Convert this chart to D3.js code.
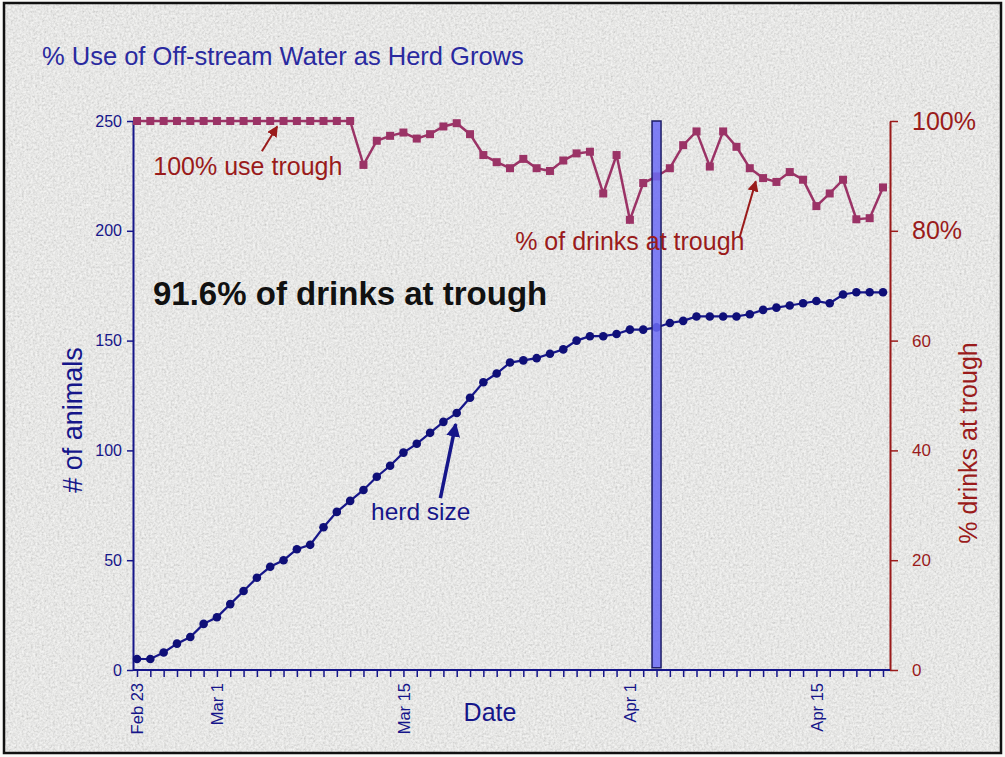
<!DOCTYPE html>
<html>
<head>
<meta charset="utf-8">
<script src="https://cdn.jsdelivr.net/npm/d3@7"></script>
<style>
  body { margin: 0; background: #fff; }
  text { font-family: "Liberation Sans", Arial, sans-serif; }
</style>
</head>
<body>
<div id="chart"></div>
<script>
// one reading per day, Feb 23 to Apr 20
var firstDay = new Date(Date.UTC(2007, 1, 23));
var lastDay = new Date(Date.UTC(2007, 3, 20));
var days = d3.utcDay.range(firstDay, d3.utcDay.offset(lastDay, 1));

// # of animals in the herd
var herdSize = [5, 5, 8, 12, 15, 21, 24, 30, 36, 42,
    47, 50, 55, 57, 65, 72, 77, 82, 88, 93,
    99, 103, 108, 113, 117, 124, 131, 135, 140, 141,
    142, 144, 146, 150, 152, 152, 153, 155, 155, 156,
    158, 159, 161, 161, 161, 161, 162, 164, 165, 166,
    167, 168, 167, 171, 172, 172, 172];

// % of drinks taken at the trough
var pctTrough = [100, 100, 100, 100, 100, 100, 100, 100, 100, 100,
    100, 100, 100, 100, 100, 100, 100, 92.0, 96.4, 97.3,
    97.9, 96.8, 97.6, 99.0, 99.6, 97.6, 93.8, 92.5, 91.4, 93.1,
    91.4, 90.9, 92.8, 94.1, 94.4, 86.8, 93.8, 82.0, 88.7, 89.9,
    91.4, 95.6, 98.1, 91.7, 98.1, 95.3, 91.4, 89.6, 88.9, 90.7,
    89.3, 84.5, 86.8, 89.3, 82.1, 82.3, 87.9];

var leftTicks = [0, 50, 100, 150, 200, 250];
var rightTicks = [0, 20, 40, 60, 80, 100];
var dateLabels = ["Feb 23", "Mar 1", "Mar 15", "Apr 1", "Apr 15"];
var markDay = new Date(Date.UTC(2007, 3, 3));   // the vertical bar

var navy = "#16168a",
    darkRed = "#9a1b1b",
    plum = "#9b3366";

var width = 1005, height = 757;

var svg = d3.select("#chart")
    .append("svg")
    .attr("width", width)
    .attr("height", height);

// speckled grey paper background
var defs = svg.append("defs");
var noise = defs.append("filter").attr("id", "noise")
    .attr("x", 0).attr("y", 0).attr("width", 1).attr("height", 1);
noise.append("feTurbulence")
    .attr("type", "fractalNoise")
    .attr("baseFrequency", 0.45)
    .attr("numOctaves", 3)
    .attr("seed", 4);
noise.append("feColorMatrix")
    .attr("type", "matrix")
    .attr("values", "1 0 0 0 0  1 0 0 0 0  1 0 0 0 0  0 0 0 0 1");

svg.append("rect")
    .attr("width", width).attr("height", height)
    .attr("fill", "#fafaf8");
svg.append("rect")
    .attr("x", 4).attr("y", 3)
    .attr("width", 997).attr("height", 750)
    .attr("filter", "url(#noise)")
    .attr("opacity", 0.3);
svg.append("rect")
    .attr("x", 4).attr("y", 3)
    .attr("width", 997).attr("height", 750)
    .attr("fill", "none")
    .attr("stroke", "#111")
    .attr("stroke-width", 2.5);

// scales
var x = d3.scaleUtc()
    .domain([firstDay, lastDay])
    .range([137, 883]);

var yL = d3.scaleLinear()
    .domain([0, 250])
    .range([670, 121]);

var yR = d3.scaleLinear()
    .domain([0, 100])
    .range([670, 121]);

// title
svg.append("text")
    .attr("x", 42).attr("y", 65)
    .attr("fill", "#2a2aa0")
    .style("font-size", "25.5px")
    .text("% Use of Off-stream Water as Herd Grows");

// left axis
var gL = svg.append("g")
    .attr("transform", "translate(133,0)")
    .call(d3.axisLeft(yL).tickValues(leftTicks).tickSize(6).tickSizeOuter(0).tickPadding(5));
gL.select(".domain").attr("stroke", navy).attr("stroke-width", 2);
gL.selectAll(".tick line").attr("stroke", navy).attr("stroke-width", 1.5);
gL.selectAll(".tick text").attr("fill", navy).style("font-size", "16px");

// right axis
var gR = svg.append("g")
    .attr("transform", "translate(890,0)")
    .call(d3.axisRight(yR).tickValues(rightTicks).tickSize(8).tickSizeOuter(0).tickPadding(14)
        .tickFormat(function (d) { return d >= 80 ? d + "%" : d; }));
gR.select(".domain").attr("stroke", darkRed).attr("stroke-width", 2);
gR.selectAll(".tick line").attr("stroke", darkRed).attr("stroke-width", 1.5);
gR.selectAll(".tick text")
    .attr("fill", darkRed)
    .style("font-size", function (d) { return d >= 80 ? "25px" : "17px"; });

// bottom axis, a tick every day
var fmt = d3.utcFormat("%b %-d");
var gB = svg.append("g")
    .attr("transform", "translate(0,670)")
    .call(d3.axisBottom(x).tickValues(days).tickSize(7).tickSizeOuter(0)
        .tickFormat(function (d) { return dateLabels.indexOf(fmt(d)) >= 0 ? fmt(d) : ""; }));
gB.select(".domain").remove();
gB.selectAll(".tick line").attr("stroke", navy).attr("stroke-width", 1.5);
gB.selectAll(".tick text")
    .attr("fill", navy)
    .style("font-size", "16.5px")
    .attr("text-anchor", "end")
    .attr("transform", "rotate(-90)")
    .attr("x", -13)
    .attr("y", 0)
    .attr("dy", "0.35em");
svg.append("line")
    .attr("x1", 133).attr("x2", 890)
    .attr("y1", 670).attr("y2", 670)
    .attr("stroke", navy).attr("stroke-width", 2);

// axis titles
svg.append("text")
    .attr("transform", "translate(82,420) rotate(-90)")
    .attr("text-anchor", "middle")
    .attr("fill", navy)
    .style("font-size", "27px")
    .text("# of animals");

svg.append("text")
    .attr("transform", "translate(977,443) rotate(-90)")
    .attr("text-anchor", "middle")
    .attr("fill", darkRed)
    .style("font-size", "25px")
    .text("% drinks at trough");

svg.append("text")
    .attr("x", 490).attr("y", 721)
    .attr("text-anchor", "middle")
    .attr("fill", navy)
    .style("font-size", "25px")
    .text("Date");

// herd size line + dots
var herdLine = d3.line()
    .x(function (d, i) { return x(days[i]); })
    .y(function (d) { return yL(d); });

svg.append("path")
    .datum(herdSize)
    .attr("d", herdLine)
    .attr("fill", "none")
    .attr("stroke", navy)
    .attr("stroke-width", 2.2);

svg.append("g")
    .selectAll("circle")
    .data(herdSize)
    .enter()
    .append("circle")
    .attr("cx", function (d, i) { return x(days[i]); })
    .attr("cy", function (d) { return yL(d); })
    .attr("r", 4.3)
    .attr("fill", "#0f0f78");

// % at trough line + squares
var pctLine = d3.line()
    .x(function (d, i) { return x(days[i]); })
    .y(function (d) { return yR(d); });

svg.append("path")
    .datum(pctTrough)
    .attr("d", pctLine)
    .attr("fill", "none")
    .attr("stroke", plum)
    .attr("stroke-width", 2.5);

svg.append("g")
    .selectAll("rect")
    .data(pctTrough)
    .enter()
    .append("rect")
    .attr("x", function (d, i) { return x(days[i]) - 4; })
    .attr("y", function (d) { return yR(d) - 4; })
    .attr("width", 8)
    .attr("height", 8)
    .attr("fill", plum);

// vertical marker bar
svg.append("rect")
    .attr("x", x(markDay) - 4.5)
    .attr("y", yR(100))
    .attr("width", 9)
    .attr("height", yR(0.4) - yR(100))
    .attr("fill", "#6b6bf5")
    .attr("fill-opacity", 0.85)
    .attr("stroke", "#1c1c66")
    .attr("stroke-width", 1.5);

// arrow heads
function arrowHead(id, color, size) {
    defs.append("marker")
        .attr("id", id)
        .attr("viewBox", "0 0 10 10")
        .attr("refX", 9).attr("refY", 5)
        .attr("markerWidth", size).attr("markerHeight", size)
        .attr("markerUnits", "userSpaceOnUse")
        .attr("orient", "auto")
        .append("path")
        .attr("d", "M0,0 L10,5 L0,10 z")
        .attr("fill", color);
}
arrowHead("headRed", darkRed, 11);
arrowHead("headNavy", navy, 14);

// annotations
svg.append("text")
    .attr("x", x(days[1]) + 3).attr("y", yR(90.2))
    .attr("fill", darkRed)
    .style("font-size", "25px")
    .text("100% use trough");
svg.append("line")
    .attr("x1", x(days[9]) + 5).attr("y1", yR(94.5))
    .attr("x2", x(days[10]) + 7).attr("y2", yR(99))
    .attr("stroke", darkRed).attr("stroke-width", 2)
    .attr("marker-end", "url(#headRed)");

svg.append("text")
    .attr("x", x(days[45]) + 8).attr("y", yR(76.5))
    .attr("text-anchor", "end")
    .attr("fill", darkRed)
    .style("font-size", "25px")
    .text("% of drinks at trough");
svg.append("line")
    .attr("x1", x(days[45]) + 3).attr("y1", yR(78.7))
    .attr("x2", x(days[46]) + 6).attr("y2", yR(89))
    .attr("stroke", darkRed).attr("stroke-width", 2)
    .attr("marker-end", "url(#headRed)");

svg.append("text")
    .attr("x", x(days[21]) + 4).attr("y", yL(68.3))
    .attr("text-anchor", "middle")
    .attr("fill", navy)
    .style("font-size", "24.5px")
    .text("herd size");
svg.append("line")
    .attr("x1", x(days[23]) - 3).attr("y1", yL(78.3))
    .attr("x2", x(days[24]) - 1).attr("y2", yL(112))
    .attr("stroke", navy).attr("stroke-width", 3.5)
    .attr("marker-end", "url(#headNavy)");

svg.append("text")
    .attr("x", 153).attr("y", 305)
    .attr("fill", "#111")
    .style("font-size", "33px")
    .style("font-weight", "bold")
    .text("91.6% of drinks at trough");
</script>
</body>
</html>
